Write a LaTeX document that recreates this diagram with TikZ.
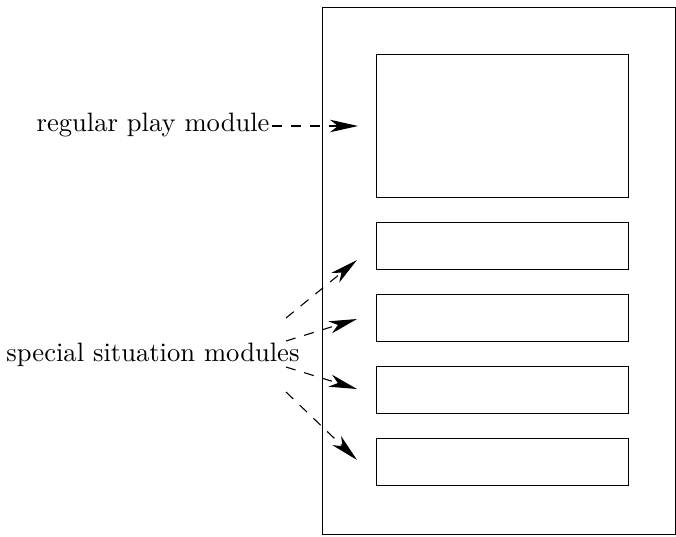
\documentclass[tikz,border=0pt]{standalone}
\usetikzlibrary{arrows.meta}
\begin{document}
\begin{tikzpicture}[x=1pt,y=-1pt,line width=1.1pt,
  frame/.style={draw,black},
  label/.style={inner sep=0pt,scale=2.66,font=\normalsize},
  pointer/.style={dash pattern=on 10pt off 9pt,
    -{Stealth[length=28pt,width=12.5pt,inset=8pt]}}]
  \useasboundingbox (0,0) rectangle (676,536);
  % outer frame and the module slots
  \node[frame,minimum width=353pt,minimum height=527pt,inner sep=0pt,anchor=north west] (page) at (322,7) {};
  \node[frame,minimum width=252pt,minimum height=143pt,inner sep=0pt,anchor=north west] (m0) at (376,54) {};
  \node[frame,minimum width=252pt,minimum height=47pt,inner sep=0pt,anchor=north west] (m1) at (376,222) {};
  \node[frame,minimum width=252pt,minimum height=47pt,inner sep=0pt,anchor=north west] (m2) at (376,294) {};
  \node[frame,minimum width=252pt,minimum height=47pt,inner sep=0pt,anchor=north west] (m3) at (376,366) {};
  \node[frame,minimum width=252pt,minimum height=47pt,inner sep=0pt,anchor=north west] (m4) at (376,438) {};
  % labels
  \node[label,anchor=base east] (reg) at (271,131) {regular play module};
  \node[label,anchor=base west] (spec) at (5,361) {special situation modules};
  % arrow ends
  \coordinate (r0) at (272,126);
  \coordinate (r1) at (358,126);
  \coordinate (s1a) at (286,318);
  \coordinate (s2a) at (286,341);
  \coordinate (s3a) at (286,367);
  \coordinate (s4a) at (286,392);
  \coordinate (s1b) at (357,260);
  \coordinate (s2b) at (357,319);
  \coordinate (s3b) at (357,389);
  \coordinate (s4b) at (357,460);
  \draw[pointer] (r0) -- (r1);
  \draw[pointer] (s1a) -- (s1b);
  \draw[pointer] (s2a) -- (s2b);
  \draw[pointer] (s3a) -- (s3b);
  \draw[pointer] (s4a) -- (s4b);
\end{tikzpicture}
\end{document}
